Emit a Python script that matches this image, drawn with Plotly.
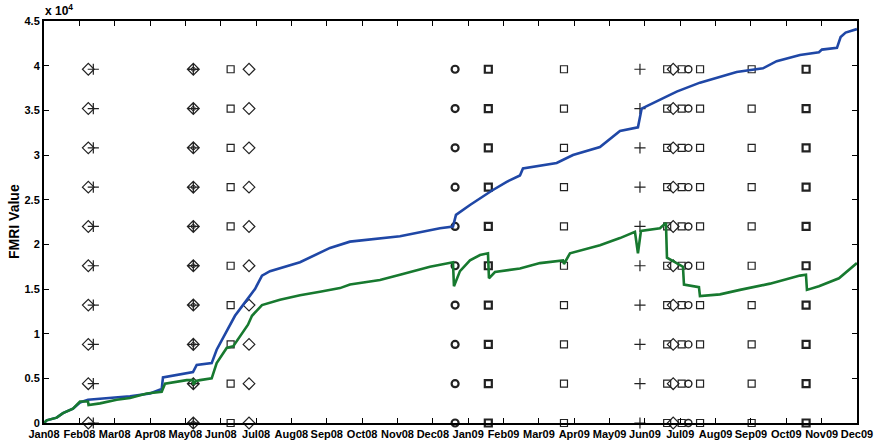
import plotly.graph_objects as go

# x positions are in months since Jan 2008 (evenly spaced month ticks)
month_labels = ["Jan08", "Feb08", "Mar08", "Apr08", "May08", "Jun08", "Jul08", "Aug08",
                "Sep08", "Oct08", "Nov08", "Dec08", "Jan09", "Feb09", "Mar09", "Apr09",
                "May09", "Jun09", "Jul09", "Aug09", "Sep09", "Oct09", "Nov09", "Dec09"]
month_ticks = list(range(len(month_labels)))

ytick_vals = [0, 5000, 10000, 15000, 20000, 25000, 30000, 35000, 40000, 45000]
ytick_text = ["0", "0.5", "1", "1.5", "2", "2.5", "3", "3.5", "4", "4.5"]

# Blue series (month, value)
blue_x = [0, 0.076, 0.359, 0.537, 0.820, 1.018, 1.245, 2.433, 2.999, 3.330, 3.366, 4.215,
          4.320, 4.744, 4.885, 5.168, 5.403, 5.686, 5.969, 6.167, 6.393, 7.242, 8.091, 8.656,
          10.071, 11.202, 11.570, 11.655, 12.051, 12.665, 13.089, 13.465, 13.550, 14.504,
          14.965, 15.728, 16.294, 16.803, 16.908, 17.228, 17.474, 17.898, 18.557, 19.123,
          19.595, 20.340, 20.727, 21.386, 21.923, 22.008, 22.433, 22.537, 22.678, 22.998]
blue_y = [0, 300, 600, 1100, 1600, 2300, 2600, 3000, 3300, 3800, 5100, 5700,
          6500, 6700, 8200, 10200, 12000, 13500, 15000, 16500, 17000, 18000, 19600, 20300,
          20900, 21800, 22000, 23300, 24400, 26000, 27000, 27700, 28500, 29100,
          30000, 30900, 32700, 33100, 35200, 35800, 36300, 37100, 38100, 38800,
          39300, 39700, 40500, 41200, 41500, 41800, 42000, 43200, 43700, 44100]

# Green series (month, value)
green_x = [0, 0.076, 0.359, 0.537, 0.820, 1.018, 1.245, 1.260, 1.584, 2.057, 2.433, 2.905,
           3.330, 3.423, 4.037, 4.215, 4.224, 4.300, 4.413, 4.744, 4.885, 5.168, 5.355,
           5.545, 5.771, 5.884, 6.167, 6.676, 7.242, 7.808, 8.373, 8.656, 9.505, 10.071,
           10.919, 11.570, 11.598, 11.768, 12.051, 12.334, 12.560, 12.588, 12.758, 13.465,
           14.031, 14.682, 14.710, 14.880, 15.728, 16.294, 16.718, 16.803, 16.888, 17.426,
           17.595, 17.624, 17.850, 18.076, 18.105, 18.529, 18.557, 19.123, 19.689, 20.028,
           20.538, 21.386, 21.556, 21.584, 21.923, 22.489, 22.998]
green_y = [0, 300, 600, 1100, 1600, 2400, 2400, 2000, 2200, 2600, 2800, 3300,
           3500, 4400, 4800, 4800, 4300, 4700, 4800, 5000, 6700, 8400, 8600,
           9700, 11000, 12000, 13200, 13800, 14300, 14700, 15100, 15500, 16000, 16600,
           17500, 18000, 15300, 17000, 18200, 18800, 19000, 16200, 16900, 17300,
           17900, 18200, 17800, 19000, 19900, 20700, 21400, 19000, 21500, 21800,
           22400, 18500, 18000, 17500, 15500, 15200, 14200, 14400, 14900, 15200,
           15600, 16500, 16600, 14900, 15300, 16200, 17900]

# Event marker rows and columns
event_rows = [0, 4400, 8800, 13200, 17600, 22000, 26400, 30800, 35200, 39600]
diamond_cols = [1.253, 5.80, 17.80]
plus_cols = [1.395, 16.86]
diamond_cross_cols = [4.224]
square_cols = [5.28, 14.71, 17.63, 18.04, 18.56, 20.02]
bold_square_cols = [12.57, 21.56]
circle_cols = [18.23]
bold_circle_cols = [11.63]

fig = go.Figure()


def add_markers(cols, symbol, size, width):
    xs, ys = [], []
    for c in cols:
        for r in event_rows:
            xs.append(c)
            ys.append(r)
    fig.add_trace(go.Scatter(
        x=xs, y=ys, mode="markers", cliponaxis=False, showlegend=False,
        marker=dict(symbol=symbol, size=size, color="#222222",
                    line=dict(color="#222222", width=width))))


add_markers(square_cols, "square-open", 7, 1.2)
add_markers(bold_square_cols, "square-open", 7, 2.2)
add_markers(diamond_cols, "diamond-open", 9, 1.2)
add_markers(plus_cols, "cross-thin-open", 8, 1.2)
add_markers(diamond_cross_cols, "diamond-cross-open", 9, 1.3)
add_markers(diamond_cross_cols, "circle-open", 4, 1.0)
add_markers(circle_cols, "circle-open", 7, 1.4)
add_markers(bold_circle_cols, "circle-open", 7, 2.2)

fig.add_trace(go.Scatter(x=blue_x, y=blue_y, mode="lines", showlegend=False,
                         line=dict(color="#1f47a6", width=2.6)))
fig.add_trace(go.Scatter(x=green_x, y=green_y, mode="lines", showlegend=False,
                         line=dict(color="#17792f", width=2.6)))

FONT = "Liberation Sans, Arial, sans-serif"
tickfont = dict(family=FONT, size=11, color="#000000", weight="bold")

fig.update_layout(
    width=877, height=447,
    autosize=False,
    margin=dict(l=44, r=20, t=21, b=24, autoexpand=False),
    paper_bgcolor="white", plot_bgcolor="white",
    xaxis=dict(range=[0, 23], tickvals=month_ticks, ticktext=month_labels,
               ticks="inside", ticklen=5, tickwidth=1, tickcolor="#000",
               showline=True, linecolor="#000", linewidth=2, mirror="ticks",
               showgrid=False, zeroline=False, tickfont=tickfont,
               automargin=False),
    yaxis=dict(range=[0, 45000], tickvals=ytick_vals, ticktext=ytick_text,
               ticks="inside", ticklen=5, tickwidth=1, tickcolor="#000",
               showline=True, linecolor="#000", linewidth=2, mirror="ticks",
               showgrid=False, zeroline=False, tickfont=tickfont,
               automargin=False),
    annotations=[
        dict(text="x 10<sup>4</sup>", xref="paper", yref="paper",
             x=0, y=1, xanchor="left", yanchor="bottom", showarrow=False,
             yshift=1, xshift=-1,
             font=dict(family=FONT, size=12, color="#000", weight="bold")),
        dict(text="FMRI Value", xref="paper", yref="paper",
             x=0, y=0.5, xanchor="center", yanchor="middle", showarrow=False,
             xshift=-30, textangle=-90,
             font=dict(family=FONT, size=14, color="#000", weight="bold")),
    ],
)

# Remove the default 8px page margin so the figure fills the 877x447 window exactly.
fig.write_html("out.html", config={"displayModeBar": False},
               post_script="document.body.style.margin='0px';")
